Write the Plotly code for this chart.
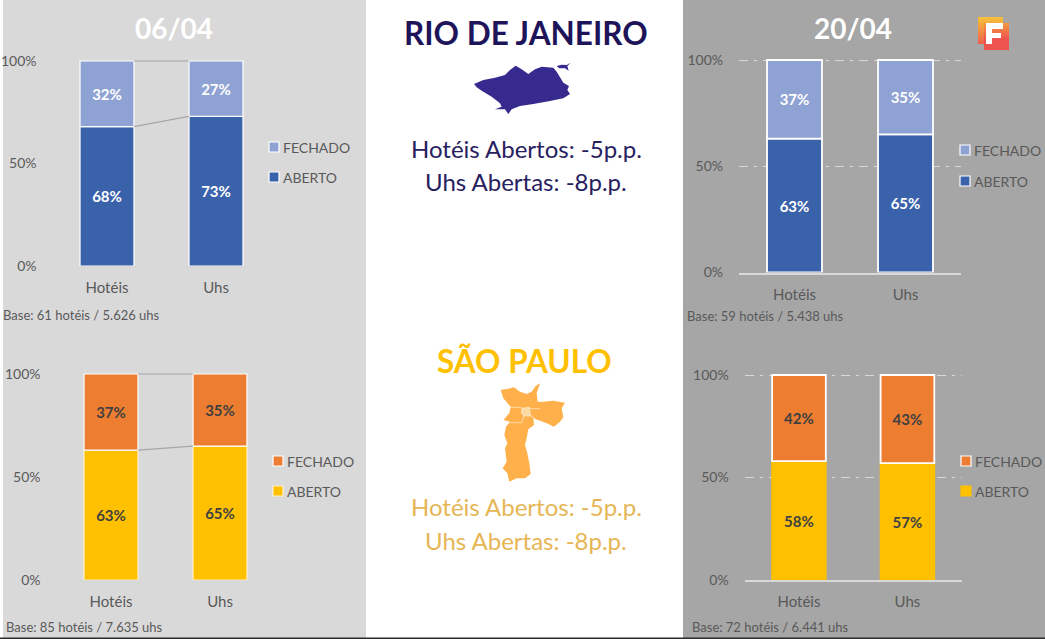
import base64
import plotly.graph_objects as go

W, H = 1045, 639
categories = ["Hotéis", "Uhs"]
rio_0604_aberto = [68, 73]
rio_0604_fechado = [32, 27]
rio_2004_aberto = [63, 65]
rio_2004_fechado = [37, 35]
sp_0604_aberto = [63, 65]
sp_0604_fechado = [37, 35]
sp_2004_aberto = [58, 57]
sp_2004_fechado = [42, 43]
tick_values = [0, 50, 100]
tick_labels = ["0%", "50%", "100%"]
series_names = ["ABERTO", "FECHADO"]

BLUE_OPEN, BLUE_CLOSED = "#3A62AB", "#8FA2D4"
YEL_OPEN, ORG_CLOSED = "#FFC000", "#ED7D31"
BAR_W = 0.495
FONT = "Lato"
Y_TOP = 101  # a little headroom so the 100% gridline is drawn


def px(x):
    return x / W


def py(y):
    return 1 - y / H


panels = [
    dict(a=rio_0604_aberto, f=rio_0604_fechado, ca=BLUE_OPEN, cf=BLUE_CLOSED, txt="white",
         x=(52.5, 270.5), y=(61, 266), grid=False, lw=1.2, la="white", lf="white",
         lg=(269, 147, 177), base="Base: 61 hotéis / 5.626 uhs", bx=3, by=315),
    dict(a=rio_2004_aberto, f=rio_2004_fechado, ca=BLUE_OPEN, cf=BLUE_CLOSED, txt="white",
         x=(739, 961), y=(60, 272.5), grid=True, lw=1.8, la="white", lf="white",
         lg=(960, 150, 181), base="Base: 59 hotéis / 5.438 uhs", bx=687, by=316),
    dict(a=sp_0604_aberto, f=sp_0604_fechado, ca=YEL_OPEN, cf=ORG_CLOSED, txt="#404040",
         x=(56.5, 274.5), y=(374, 580), grid=False, lw=1.2, la="#FFF2CC", lf="white",
         lg=(273, 461, 491), base="Base: 85 hotéis / 7.635 uhs", bx=6, by=627),
    dict(a=sp_2004_aberto, f=sp_2004_fechado, ca=YEL_OPEN, cf=ORG_CLOSED, txt="#404040",
         x=(744.7, 961.7), y=(375, 580), grid=True, lw=1.8, la=YEL_OPEN, lf="white",
         lg=(961, 461, 491), base="Base: 72 hotéis / 6.441 uhs", bx=692, by=627),
]

fig = go.Figure()
shapes = [
    dict(type="rect", xref="paper", yref="paper", x0=px(3), x1=px(366), y0=0, y1=1,
         fillcolor="#D9D9D9", line_width=0, layer="below"),
    dict(type="rect", xref="paper", yref="paper", x0=px(683), x1=1, y0=0, y1=1,
         fillcolor="#A6A6A6", line_width=0, layer="below"),
    dict(type="rect", xref="paper", yref="paper", x0=0, x1=1, y0=0, y1=py(637.5),
         fillcolor="#2B2B2B", line_width=0, layer="above"),
]
annotations = []
layout_axes = {}


def note(text, x, y, size, color, anchor="center", bold=False, font=FONT):
    shift = -2 if anchor == "left" else 0
    annotations.append(dict(
        text=text, x=px(x + shift), y=py(y), xref="paper", yref="paper", showarrow=False,
        xanchor=anchor, yanchor="middle",
        font=dict(family=font, size=size, color=color, weight=700 if bold else 400),
    ))


for i, p in enumerate(panels, start=1):
    xa, ya = ("x", "y") if i == 1 else (f"x{i}", f"y{i}")
    xk, yk = ("xaxis", "yaxis") if i == 1 else (f"xaxis{i}", f"yaxis{i}")
    xs = [0, 1]
    for vals, base, col, line, name in (
        (p["a"], None, p["ca"], p["la"], series_names[0]),
        (p["f"], p["a"], p["cf"], p["lf"], series_names[1]),
    ):
        fig.add_trace(go.Bar(
            x=xs, y=vals, base=base, width=BAR_W, name=name, xaxis=xa, yaxis=ya,
            marker=dict(color=col, line=dict(color=line, width=p["lw"])),
            text=[f"{v}%" for v in vals], textposition="inside", insidetextanchor="middle",
            textangle=0, constraintext="none",
            textfont=dict(family=FONT, size=15, color=p["txt"], weight=700),
            showlegend=False,
        ))
    if not p["grid"]:
        for vals in (p["a"], [100, 100]):
            fig.add_trace(go.Scatter(
                x=[BAR_W / 2, 1 - BAR_W / 2], y=vals, mode="lines", xaxis=xa, yaxis=ya,
                line=dict(color="#A6A6A6", width=1.2), showlegend=False, hoverinfo="skip",
            ))
    top_px = p["y"][0] - (p["y"][1] - p["y"][0]) * (Y_TOP - 100) / 100
    layout_axes[xk] = dict(
        domain=[px(p["x"][0]), px(p["x"][1])], range=[-0.5, 1.5], anchor=ya, automargin=False,
        tickmode="array", tickvals=xs, ticktext=categories, ticks="",
        ticklabelstandoff=7 if p["grid"] else 11,
        tickfont=dict(family=FONT, size=15, color="#595959"), showgrid=False, zeroline=False,
        showline=p["grid"], linecolor="#D9D9D9", linewidth=2, fixedrange=True,
    )
    layout_axes[yk] = dict(
        domain=[py(p["y"][1]), py(top_px)], range=[0, Y_TOP], anchor=xa, automargin=False,
        tickmode="array", tickvals=tick_values, ticktext=tick_labels, ticks="",
        ticklabelstandoff=15,
        tickfont=dict(family=FONT, size=14, color="#595959"), zeroline=False, showline=False,
        showgrid=p["grid"], gridcolor="#D9D9D9", griddash="9px,6px,3px,6px", gridwidth=1,
        fixedrange=True,
    )
    lx, ly_f, ly_a = p["lg"]
    for yy, col, name, edge in ((ly_f, p["cf"], series_names[1], p["lf"]),
                                (ly_a, p["ca"], series_names[0], p["la"])):
        shapes.append(dict(type="rect", xref="paper", yref="paper", x0=px(lx), x1=px(lx + 10),
                           y0=py(yy + 5), y1=py(yy - 5), fillcolor=col,
                           line=dict(color=edge, width=1.2), layer="above"))
        note(name, lx + 14, yy, 14, "#595959", anchor="left")
    note(p["base"], p["bx"], p["by"], 13, "#595959", anchor="left")

note("06/04", 174, 28, 28, "white", bold=True)
note("20/04", 853, 28, 28, "white", bold=True)
note("RIO DE JANEIRO", 526, 33, 31.5, "#1E1459", bold=True)
note("Hotéis Abertos: -5p.p.", 526, 148, 24, "#27215F")
note("Uhs Abertas: -8p.p.", 526, 181, 24, "#27215F")
note("SÃO PAULO", 524, 361, 31.5, "#FFC000", bold=True)
note("Hotéis Abertos: -5p.p.", 526, 506, 24, "#E6B655")
note("Uhs Abertas: -8p.p.", 526, 540, 24, "#E6B655")


def outline(points, ox, oy):
    out = []
    for j, (zx, zy) in enumerate(points):
        out.append(("M" if j == 0 else "L") + f"{px(ox + zx / 3):.5f},{py(oy + zy / 3):.5f}")
    return " ".join(out)


rio_main = [(312, 252), (340, 240), (375, 233), (405, 225), (420, 210), (437, 197), (455, 208),
            (475, 222), (495, 208), (515, 200), (550, 203), (560, 215), (570, 232), (580, 248),
            (597, 258), (592, 270), (600, 282), (580, 295), (540, 303), (490, 312), (450, 318),
            (425, 328), (415, 342), (405, 328), (375, 328), (395, 320), (390, 310), (365, 290),
            (335, 272), (320, 262)]
rio_island = [(560, 198), (575, 194), (590, 195), (602, 188), (592, 198), (596, 212), (585, 205),
              (568, 205)]
sp_main = [(392, 180), (415, 176), (432, 172), (450, 185), (470, 192), (485, 185), (497, 168),
           (510, 160), (500, 190), (503, 215), (520, 215), (550, 212), (585, 218), (575, 235),
           (580, 262), (570, 275), (552, 290), (530, 280), (510, 272), (490, 265), (492, 285),
           (475, 298), (470, 325), (465, 345), (472, 370), (478, 400), (482, 432), (465, 445),
           (440, 445), (418, 455), (412, 430), (398, 415), (410, 395), (405, 355), (412, 340),
           (403, 315), (408, 290), (420, 275), (400, 270), (418, 250), (422, 230), (400, 205)]
sp_center = [(455, 235), (478, 232), (482, 258), (462, 258), (455, 250)]
sp_borders = [[(418, 232), (455, 232)], [(478, 236), (510, 236)],
              [(462, 258), (455, 278), (420, 278)], [(482, 258), (495, 265)]]

for pts, ox, oy in ((rio_main, 370, 0), (rio_island, 370, 0)):
    shapes.append(dict(type="path", xref="paper", yref="paper", path=outline(pts, ox, oy) + " Z",
                       fillcolor="#372A8F", line_width=0, layer="above"))
shapes.append(dict(type="path", xref="paper", yref="paper", path=outline(sp_main, 370, 330) + " Z",
                   fillcolor="#FFB04A", line_width=0, layer="above"))
shapes.append(dict(type="path", xref="paper", yref="paper", path=outline(sp_center, 370, 330) + " Z",
                   fillcolor="#FBD9A0", line=dict(color="#FFF3E0", width=0.6), layer="above"))
for seg in sp_borders:
    shapes.append(dict(type="path", xref="paper", yref="paper", path=outline(seg, 370, 330),
                       line=dict(color="#FFE6C4", width=0.8), layer="above"))

logo_svg = (
    '<svg xmlns="http://www.w3.org/2000/svg" width="31" height="33" viewBox="0 0 31 33">'
    '<defs><linearGradient id="g" x1="0" y1="0" x2="0" y2="1">'
    '<stop offset="0" stop-color="#F7C23C"/><stop offset="1" stop-color="#EE5F4A"/>'
    '</linearGradient><linearGradient id="h" x1="0" y1="0" x2="0" y2="1">'
    '<stop offset="0" stop-color="#F39A3E"/><stop offset="0.6" stop-color="#EF5350"/>'
    '</linearGradient></defs>'
    '<rect x="0" y="0" width="25" height="27" fill="url(#g)"/>'
    '<rect x="6" y="6" width="25" height="27" fill="url(#h)"/>'
    '<path d="M8 6H25V12H14V16H23V21H14V27H8Z" fill="white"/></svg>'
)
logo_src = "data:image/svg+xml;base64," + base64.b64encode(logo_svg.encode()).decode()

fig.update_layout(
    width=W, height=H, margin=dict(l=0, r=0, t=0, b=0, pad=0), autosize=False,
    paper_bgcolor="white", plot_bgcolor="rgba(0,0,0,0)", barmode="overlay",
    showlegend=False, shapes=shapes, annotations=annotations,
    images=[dict(source=logo_src, xref="paper", yref="paper", x=px(978), y=py(17),
                 sizex=31 / W, sizey=33 / H, xanchor="left", yanchor="top",
                 sizing="stretch", layer="above")],
    **layout_axes,
)

fig.write_html("out.html", config=dict(displayModeBar=False),
               post_script="document.body.style.margin='0';document.body.style.overflow='hidden';")
